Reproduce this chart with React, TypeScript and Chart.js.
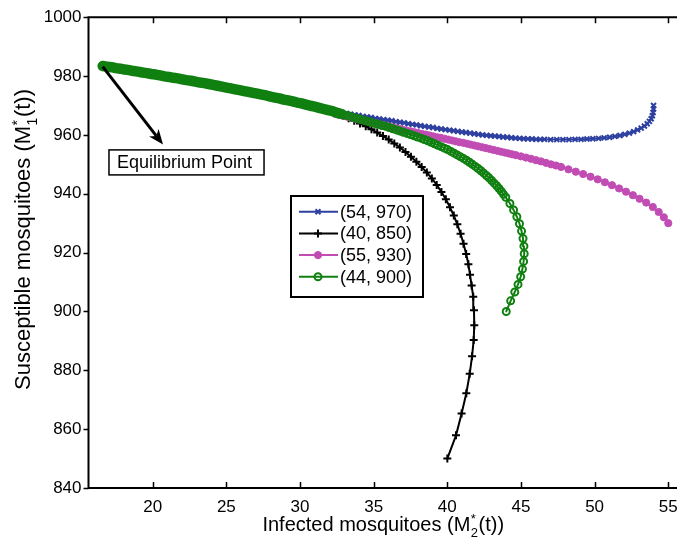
import React, { useEffect, useRef } from "react";
import { Chart, registerables } from "chart.js";
import { drawPoint } from "chart.js/helpers";

Chart.register(...registerables);

// ---------- data ----------
const X_TICKS = [20, 25, 30, 35, 40, 45, 50, 55];
const Y_TICKS = [840, 860, 880, 900, 920, 940, 960, 980, 1000];
const X_MIN = 15.64;
const X_MAX = 56;
const Y_MIN = 840;
const Y_MAX = 1000;

const SERIES_LABELS = ["(54, 970)", "(40, 850)", "(55, 930)", "(44, 900)"];

// shared path approaching the equilibrium point
const commonTail: [number, number][] = [
  [32.2, 968.1], [31.9, 968.4], [31.6, 968.8], [31.3, 969.2], [31.0, 969.6], [30.7, 969.9],
  [30.4, 970.3], [30.1, 970.7], [29.8, 971.0], [29.5, 971.4], [29.2, 971.7], [28.9, 972.0],
  [28.6, 972.4], [28.3, 972.7], [28.0, 973.0], [27.7, 973.4], [27.4, 973.7], [27.1, 974.0],
  [26.8, 974.3], [26.5, 974.6], [26.2, 974.9], [25.9, 975.2], [25.6, 975.5], [25.3, 975.8],
  [25.0, 976.1], [24.7, 976.4], [24.4, 976.7], [24.1, 977.0], [23.8, 977.3], [23.5, 977.6],
  [23.2, 977.8], [22.9, 978.1], [22.6, 978.4], [22.3, 978.6], [22.0, 978.9], [21.7, 979.2],
  [21.4, 979.4], [21.1, 979.7], [20.8, 979.9], [20.5, 980.2], [20.2, 980.5], [19.9, 980.7],
  [19.6, 981.0], [19.3, 981.2], [19.0, 981.5], [18.7, 981.7], [18.4, 982.0], [18.1, 982.2],
  [17.8, 982.5], [17.5, 982.7], [17.2, 983.0], [16.9, 983.2], [16.6, 983.4],
];

const path54_970: [number, number][] = [
  [54.0, 970.0], [54.0, 968.8], [53.97, 967.6], [53.92, 966.5], [53.84, 965.5], [53.72, 964.6],
  [53.57, 963.8], [53.38, 963.0], [53.16, 962.3], [52.92, 961.7], [52.65, 961.1], [52.36, 960.6],
  [52.05, 960.2], [51.72, 959.8], [51.38, 959.5], [51.02, 959.2], [50.65, 959.0], [50.27, 958.8],
  [49.88, 958.7], [49.48, 958.6], [49.08, 958.5], [48.67, 958.5], [48.26, 958.4], [47.85, 958.4],
  [47.43, 958.4], [47.01, 958.4], [46.59, 958.5], [46.31, 958.5], [46.03, 958.5], [45.75, 958.6],
  [45.47, 958.65], [45.19, 958.7], [44.91, 958.8], [44.63, 958.9], [44.35, 959.05], [44.07, 959.2],
  [43.79, 959.3], [43.51, 959.45], [43.23, 959.6], [42.95, 959.7], [42.67, 959.85], [42.39, 960.0],
  [42.11, 960.2], [41.83, 960.4], [41.55, 960.6], [41.27, 960.8], [40.99, 961.0], [40.71, 961.2],
  [40.43, 961.4], [40.15, 961.6], [39.87, 961.8], [39.59, 962.0], [39.31, 962.2], [39.03, 962.5],
  [38.75, 962.7], [38.47, 962.9], [38.19, 963.1], [37.91, 963.4], [37.63, 963.6], [37.35, 963.8],
  [37.07, 964.1], [36.79, 964.3], [36.51, 964.5], [36.23, 964.8], [35.95, 965.0], [35.67, 965.2],
  [35.39, 965.4], [35.11, 965.6], [34.83, 965.9], [34.55, 966.1], [34.27, 966.3], [33.99, 966.6],
  [33.71, 966.8], [33.43, 967.0], [33.15, 967.3], [32.87, 967.5], [32.59, 967.8],
];

const path40_850: [number, number][] = [
  [40.0, 850.0], [40.59, 857.9], [40.97, 865.3], [41.29, 872.2], [41.52, 878.8], [41.68, 884.8],
  [41.79, 890.3], [41.83, 895.3], [41.81, 900.4], [41.76, 905.0], [41.65, 908.8], [41.54, 912.5],
  [41.43, 916.0], [41.28, 919.5], [41.10, 923.0], [40.90, 926.4], [40.68, 929.6], [40.44, 932.6],
  [40.18, 935.4], [39.90, 938.1], [39.60, 940.6], [39.28, 943.0], [38.95, 945.2], [38.61, 947.2],
  [38.26, 949.1], [37.90, 950.9], [37.53, 952.6], [37.16, 954.2], [36.78, 955.7], [36.40, 957.1],
  [36.02, 958.4], [35.63, 959.6], [35.24, 960.8], [34.85, 961.9], [34.46, 962.9], [34.07, 963.9],
  [33.68, 964.8], [33.30, 965.7], [32.92, 966.5], [32.55, 967.3],
];

const path55_930: [number, number][] = [
  [55.0, 930.0], [54.7, 932.0], [54.35, 933.8], [53.95, 935.5], [53.5, 937.0], [53.05, 938.3],
  [52.6, 939.5], [52.13, 940.7], [51.66, 941.8], [51.18, 942.9], [50.7, 943.9], [50.21, 944.9],
  [49.72, 945.8], [49.22, 946.7], [48.72, 947.5], [48.22, 948.3], [47.72, 949.1], [47.38, 949.6],
  [47.04, 950.0], [46.7, 950.5], [46.36, 951.0], [46.02, 951.4], [45.68, 951.9], [45.34, 952.3],
  [45.0, 952.7], [44.66, 953.1], [44.4, 953.4],
  [44.15, 953.7], [43.9, 954.0], [43.64, 954.3], [43.39, 954.6], [43.13, 954.9], [42.88, 955.2],
  [42.62, 955.5], [42.37, 955.8], [42.11, 956.1], [41.86, 956.4], [41.6, 956.7], [41.35, 957.0],
  [41.09, 957.3], [40.84, 957.5], [40.58, 957.8], [40.33, 958.1], [40.07, 958.4], [39.82, 958.7],
  [39.56, 959.0], [39.31, 959.2], [39.05, 959.5], [38.8, 959.8], [38.54, 960.1], [38.29, 960.3],
  [38.03, 960.6], [37.78, 960.9], [37.52, 961.2], [37.27, 961.4], [37.01, 961.7], [36.76, 962.0],
  [36.5, 962.3], [36.25, 962.6], [35.99, 962.9], [35.74, 963.2], [35.48, 963.5], [35.23, 963.8],
  [34.97, 964.1], [34.72, 964.4], [34.46, 964.7], [34.21, 965.0], [33.95, 965.3], [33.7, 965.6],
  [33.44, 965.9], [33.19, 966.2], [32.93, 966.5], [32.68, 966.8], [32.42, 967.1],
];

const path44_900: [number, number][] = [
  [44.0, 900.0], [44.3, 903.6], [44.58, 906.6], [44.8, 909.2], [44.98, 911.8], [45.1, 914.4],
  [45.18, 917.0], [45.22, 919.6], [45.2, 922.2], [45.14, 924.8], [45.04, 927.3], [44.9, 929.8],
  [44.72, 932.2], [44.5, 934.5], [44.25, 936.7], [43.97, 938.8], [43.82, 939.8], [43.67, 940.8],
  [43.51, 941.8], [43.35, 942.7], [43.18, 943.6], [43.01, 944.5], [42.83, 945.4], [42.65, 946.2],
  [42.47, 947.0], [42.28, 947.8], [42.09, 948.6], [41.9, 949.3], [41.7, 950.0], [41.5, 950.7],
  [41.3, 951.4], [41.09, 952.0], [40.88, 952.6], [40.67, 953.2], [40.46, 953.8], [40.24, 954.4],
  [40.02, 955.0], [39.8, 955.5], [39.58, 956.0], [39.35, 956.5], [39.13, 957.0], [38.9, 957.5],
  [38.67, 958.0], [38.44, 958.4], [38.21, 958.9], [37.97, 959.3], [37.74, 959.7], [37.5, 960.1],
  [37.26, 960.5], [37.02, 960.9], [36.78, 961.3], [36.54, 961.7], [36.3, 962.1], [36.05, 962.5],
  [35.81, 962.9], [35.56, 963.2], [35.32, 963.6], [35.07, 963.9], [34.82, 964.3], [34.57, 964.6],
  [34.32, 965.0], [34.07, 965.3], [33.82, 965.7], [33.57, 966.0], [33.32, 966.4], [33.07, 966.7],
  [32.82, 967.1], [32.57, 967.4],
];

const EQ_ARROW_FROM: [number, number] = [16.6, 983.2];
const EQ_ARROW_TO: [number, number] = [20.7, 956.7];
const EQ_LABEL_AT: [number, number] = [17.03, 954.9];
const EQ_LABEL = "Equilibrium Point";

const X_TITLE = { pre: "Infected mosquitoes (M", sup: "*", sub: "2", post: "(t))" };
const Y_TITLE = { pre: "Susceptible mosquitoes (M", sup: "*", sub: "1", post: "(t))" };

// ---------- styles ----------
const FONT = '"Liberation Sans", Arial, Helvetica, sans-serif';
const BLUE = "rgb(46,64,160)";
const BLACK = "#000000";
const MAGENTA = "rgb(192,76,180)";
const GREEN = "rgb(16,128,16)";
const BAND_X = 33; // left of this the dense markers merge into a solid band

const toPts = (a: [number, number][]) => a.map(([x, y]) => ({ x, y }));

function drawScripted(
  ctx: CanvasRenderingContext2D,
  t: { pre: string; sup: string; sub: string; post: string },
  cx: number,
  baseline: number,
  size: number,
  small: number
) {
  ctx.font = `${size}px ${FONT}`;
  const wPre = ctx.measureText(t.pre).width;
  const wPost = ctx.measureText(t.post).width;
  ctx.font = `${small}px ${FONT}`;
  const wSup = ctx.measureText(t.sup).width;
  const wSub = ctx.measureText(t.sub).width;
  const wMid = Math.max(wSup, wSub);
  const total = wPre + wMid + wPost;
  let x = cx - total / 2;
  ctx.textAlign = "left";
  ctx.textBaseline = "alphabetic";
  ctx.font = `${size}px ${FONT}`;
  ctx.fillText(t.pre, x, baseline);
  x += wPre;
  ctx.font = `${small}px ${FONT}`;
  ctx.fillText(t.sup, x + 0.5, baseline - size * 0.38);
  ctx.fillText(t.sub, x + 0.5, baseline + size * 0.3);
  x += wMid + 1;
  ctx.font = `${size}px ${FONT}`;
  ctx.fillText(t.post, x, baseline);
}

const decorPlugin = {
  id: "decor",
  afterDatasetsDraw(chart: any) {
    const ctx: CanvasRenderingContext2D = chart.ctx;
    const { left, right, top, bottom } = chart.chartArea;
    const xs = chart.scales.x;
    const ys = chart.scales.y;
    ctx.save();
    // frame
    ctx.strokeStyle = "#000";
    ctx.lineWidth = 2;
    ctx.beginPath();
    ctx.moveTo(right, top);
    ctx.lineTo(left, top);
    ctx.lineTo(left, bottom);
    ctx.lineTo(right, bottom);
    ctx.lineTo(right, top);
    ctx.stroke();
    // ticks
    ctx.lineWidth = 1.5;
    ctx.beginPath();
    X_TICKS.forEach((v) => {
      const px = Math.round(xs.getPixelForValue(v)) + 0.5;
      ctx.moveTo(px, bottom);
      ctx.lineTo(px, bottom - 6);
      ctx.moveTo(px, top);
      ctx.lineTo(px, top + 6);
    });
    Y_TICKS.forEach((v) => {
      const py = Math.round(ys.getPixelForValue(v)) + 0.5;
      ctx.moveTo(left, py);
      ctx.lineTo(left - 5, py);
    });
    ctx.stroke();

    // arrow annotation
    const ax0 = xs.getPixelForValue(EQ_ARROW_FROM[0]);
    const ay0 = ys.getPixelForValue(EQ_ARROW_FROM[1]);
    const ax1 = xs.getPixelForValue(EQ_ARROW_TO[0]);
    const ay1 = ys.getPixelForValue(EQ_ARROW_TO[1]);
    const ang = Math.atan2(ay1 - ay0, ax1 - ax0);
    const hl = 15;
    const hw = 6;
    const bx = ax1 - hl * Math.cos(ang);
    const by = ay1 - hl * Math.sin(ang);
    ctx.strokeStyle = "#000";
    ctx.lineWidth = 3;
    ctx.beginPath();
    ctx.moveTo(ax0, ay0);
    ctx.lineTo(bx + 4 * Math.cos(ang), by + 4 * Math.sin(ang));
    ctx.stroke();
    ctx.fillStyle = "#000";
    ctx.beginPath();
    ctx.moveTo(ax1, ay1);
    ctx.lineTo(bx - hw * Math.sin(ang), by + hw * Math.cos(ang));
    ctx.lineTo(bx + 4 * Math.cos(ang), by + 4 * Math.sin(ang));
    ctx.lineTo(bx + hw * Math.sin(ang), by - hw * Math.cos(ang));
    ctx.closePath();
    ctx.fill();

    // label box
    const lx = xs.getPixelForValue(EQ_LABEL_AT[0]);
    const ly = ys.getPixelForValue(EQ_LABEL_AT[1]);
    ctx.font = `18px ${FONT}`;
    const tw = ctx.measureText(EQ_LABEL).width;
    const bw = tw + 20;
    const bh = 25;
    ctx.fillStyle = "#fff";
    ctx.fillRect(lx, ly, bw, bh);
    ctx.lineWidth = 1.5;
    ctx.strokeRect(lx, ly, bw, bh);
    ctx.fillStyle = "#000";
    ctx.textAlign = "left";
    ctx.textBaseline = "middle";
    ctx.fillText(EQ_LABEL, lx + 8, ly + bh / 2 + 1);

    // legend
    const LX = 291, LY = 196, LW = 132, LH = 101;
    ctx.fillStyle = "#fff";
    ctx.fillRect(LX, LY, LW, LH);
    ctx.strokeStyle = "#000";
    ctx.lineWidth = 2;
    ctx.strokeRect(LX, LY, LW, LH);
    chart.data.datasets.forEach((ds: any, i: number) => {
      const ry = LY + 15.7 + i * 21.7;
      ctx.strokeStyle = ds.borderColor;
      ctx.lineWidth = 2;
      ctx.beginPath();
      ctx.moveTo(LX + 8, ry);
      ctx.lineTo(LX + 47, ry);
      ctx.stroke();
      ctx.fillStyle = ds.pointBackgroundColor;
      ctx.strokeStyle = ds.pointBorderColor;
      ctx.lineWidth = ds.pointBorderWidth;
      drawPoint(ctx, { pointStyle: ds.pointStyle, radius: ds.pointRadius, rotation: 0, borderWidth: ds.pointBorderWidth } as any, LX + 27, ry);
      ctx.fillStyle = "#000";
      ctx.font = `18px ${FONT}`;
      ctx.textAlign = "left";
      ctx.textBaseline = "middle";
      ctx.fillText(ds.label, LX + 49, ry + 1);
    });

    // axis titles
    ctx.fillStyle = "#000";
    drawScripted(ctx, X_TITLE, (left + right) / 2 - 3, 531, 20, 13);
    ctx.save();
    ctx.translate(30, 240);
    ctx.rotate(-Math.PI / 2);
    drawScripted(ctx, Y_TITLE, 0, 0, 22, 14);
    ctx.restore();

    ctx.restore();
  },
};

export default function App() {
  const ref = useRef<HTMLCanvasElement | null>(null);
  useEffect(() => {
    document.body.style.margin = "0";
    document.body.style.overflow = "hidden";
    const canvas = ref.current!;
    const tickFont = { family: FONT, size: 17 };
    const chart = new Chart(canvas, {
      type: "scatter",
      data: {
        datasets: [
          {
            label: SERIES_LABELS[0],
            data: toPts([...path54_970, ...commonTail]),
            showLine: true,
            borderColor: BLUE,
            borderWidth: 2,
            pointStyle: "crossRot",
            pointRadius: 3.5,
            pointBorderWidth: 2,
            pointBorderColor: BLUE,
            pointBackgroundColor: BLUE,
            order: 4,
          },
          {
            label: SERIES_LABELS[1],
            data: toPts([...path40_850, ...commonTail]),
            showLine: true,
            borderColor: BLACK,
            borderWidth: 2,
            pointStyle: "cross",
            pointRadius: 4,
            pointBorderWidth: 2,
            pointBorderColor: BLACK,
            pointBackgroundColor: BLACK,
            order: 3,
          },
          {
            label: SERIES_LABELS[2],
            data: toPts([...path55_930, ...commonTail]),
            showLine: true,
            borderColor: MAGENTA,
            borderWidth: 2,
            pointStyle: "circle",
            pointRadius: 3.6,
            pointBorderWidth: 1,
            pointBorderColor: MAGENTA,
            pointBackgroundColor: MAGENTA,
            order: 2,
          },
          {
            label: SERIES_LABELS[3],
            data: toPts([...path44_900, ...commonTail]),
            showLine: true,
            borderColor: GREEN,
            borderWidth: 2,
            borderCapStyle: "round",
            borderJoinStyle: "round",
            segment: {
              borderWidth: (c: any) => (c.p0.parsed.x <= BAND_X && c.p1.parsed.x <= BAND_X ? 10.5 : 2),
            },
            pointStyle: "circle",
            pointRadius: 3.5,
            pointBorderWidth: 2,
            pointBorderColor: GREEN,
            pointBackgroundColor: "rgba(0,0,0,0)",
            order: 1,
          },
        ] as any,
      },
      options: {
        animation: false,
        responsive: true,
        maintainAspectRatio: false,
        devicePixelRatio: 1,
        events: [],
        layout: { padding: { top: 11, right: 17, left: 0, bottom: 0 } },
        plugins: { legend: { display: false }, tooltip: { enabled: false }, title: { display: false } },
        scales: {
          x: {
            type: "linear",
            min: X_MIN,
            max: X_MAX,
            grid: { display: false, drawTicks: false },
            border: { display: false },
            ticks: {
              font: tickFont, color: "#000", padding: 9, maxRotation: 0, autoSkip: false, includeBounds: false,
              callback: (v: any) => String(v),
            },
            afterBuildTicks: (s: any) => {
              s.ticks = X_TICKS.map((v) => ({ value: v }));
            },
            afterFit: (s: any) => {
              s.height = 60;
            },
          },
          y: {
            type: "linear",
            min: Y_MIN,
            max: Y_MAX,
            grid: { display: false, drawTicks: false },
            border: { display: false },
            ticks: {
              font: tickFont, color: "#000", padding: 7, autoSkip: false, includeBounds: false,
              callback: (v: any) => String(v),
            },
            afterBuildTicks: (s: any) => {
              s.ticks = Y_TICKS.map((v) => ({ value: v }));
            },
            afterFit: (s: any) => {
              s.width = 88.5;
            },
          },
        },
      } as any,
      plugins: [decorPlugin],
    });
    return () => chart.destroy();
  }, []);
  return (
    <div style={{ position: "fixed", left: 0, top: 0, width: 700, height: 548, background: "#fff" }}>
      <canvas ref={ref} />
    </div>
  );
}
